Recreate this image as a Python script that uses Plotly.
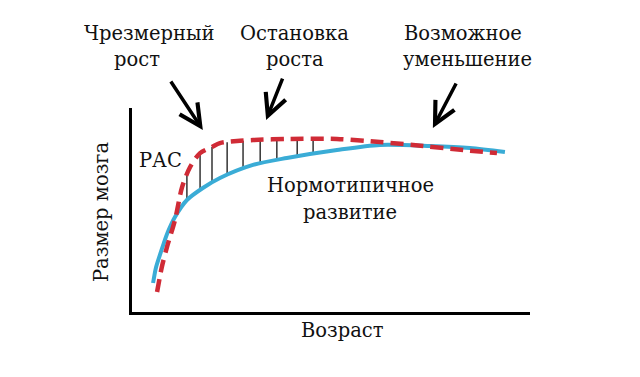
import numpy as np
import plotly.graph_objects as go

# Normotypical development (blue, solid)
norm_age = [5.3, 6.0, 7.0, 8.0, 9.0, 10.8, 13.8, 17.8, 22.1, 30.4, 38.9, 51.5, 62.3, 74.9, 84.9, 93.7]
norm_size = [14.2, 21.6, 27.9, 33.8, 39.2, 46.6, 54.9, 60.8, 65.7, 72.1, 75.5, 79.4, 81.9, 81.4, 80.4, 78.4]

# ASD (red, dashed)
asd_age = [6.3, 7.5, 8.8, 10.8, 12.6, 14.6, 17.1, 20.1, 22.1, 26.4, 30.4, 38.9, 51.5, 62.3, 70.6, 83.2, 91.7]
asd_size = [9.8, 22.1, 31.9, 45.1, 61.3, 71.1, 77.9, 80.9, 82.8, 83.8, 84.3, 84.8, 84.8, 83.3, 81.9, 79.4, 77.9]

# Hatch positions between the curves
hatch_age = [13.8, 17.1, 20.1, 23.9, 27.9, 32.2, 36.4, 41.5, 45.5]

# Text labels
top_labels = [("Чрезмерный", 149, 33), ("рост", 137, 60),
              ("Остановка", 294, 33), ("роста", 295, 60),
              ("Возможное", 463, 33), ("уменьшение", 467, 60)]
inner_labels = [("РАС", 160, 160), ("Нормотипичное", 350, 185), ("развитие", 350, 212)]
x_title = "Возраст"
y_title = "Размер мозга"

# Arrows: head (age, size), tail offset px
arrows = [(17.8, 89.2, -33, -50), (33.7, 94.1, 17, -43), (75.6, 90.2, 24, -46)]

W, H = 640, 377
L, R, T, B = 132, 530, 108, 312

def px_to_paper(px, py):
    return (px - L) / (R - L), (B - py) / (B - T)

fig = go.Figure()

hx, hy = [], []
for a in hatch_age:
    y1 = np.interp(a, asd_age, asd_size)
    y2 = np.interp(a, norm_age, norm_size)
    hx += [a, a, None]
    hy += [y1, y2, None]
fig.add_trace(go.Scatter(x=hx, y=hy, mode="lines", line=dict(color="black", width=1.2), hoverinfo="skip"))

fig.add_trace(go.Scatter(x=norm_age, y=norm_size, mode="lines",
                         line=dict(color="#3AACD6", width=4, shape="spline", smoothing=0.8)))
fig.add_trace(go.Scatter(x=asd_age, y=asd_size, mode="lines",
                         line=dict(color="#D02B36", width=4.5, dash="13px,7px", shape="spline", smoothing=0.8)))

font = dict(family="DejaVu Serif", size=19.5, color="#111111")
anns = []
for t, x, y in top_labels + inner_labels:
    px_, py_ = px_to_paper(x, y)
    anns.append(dict(text=t, x=px_, y=py_, xref="paper", yref="paper", showarrow=False,
                     xanchor="center", yanchor="middle", font=font))
px_, py_ = px_to_paper(342, 330)
anns.append(dict(text=x_title, x=px_, y=py_, xref="paper", yref="paper", showarrow=False,
                 xanchor="center", yanchor="middle", font=font))
px_, py_ = px_to_paper(101, 212)
anns.append(dict(text=y_title, x=px_, y=py_, xref="paper", yref="paper", showarrow=False,
                 textangle=-90, xanchor="center", yanchor="middle", font=font))
for hxa, hya, ax, ay in arrows:
    anns.append(dict(text="", x=hxa, y=hya, xref="x", yref="y", ax=ax, ay=ay,
                     showarrow=True, arrowhead=5, arrowwidth=3.5, arrowsize=1.2, arrowcolor="black"))

fig.update_layout(
    width=W, height=H, showlegend=False,
    margin=dict(l=L, r=W - R, t=T, b=H - B),
    paper_bgcolor="white", plot_bgcolor="white",
    xaxis=dict(range=[0, 100], showgrid=False, zeroline=False, showticklabels=False, ticks="",
               showline=True, linecolor="black", linewidth=3),
    yaxis=dict(range=[0, 100], showgrid=False, zeroline=False, showticklabels=False, ticks="",
               showline=True, linecolor="black", linewidth=3),
    annotations=anns,
)
fig.write_html("out.html")
